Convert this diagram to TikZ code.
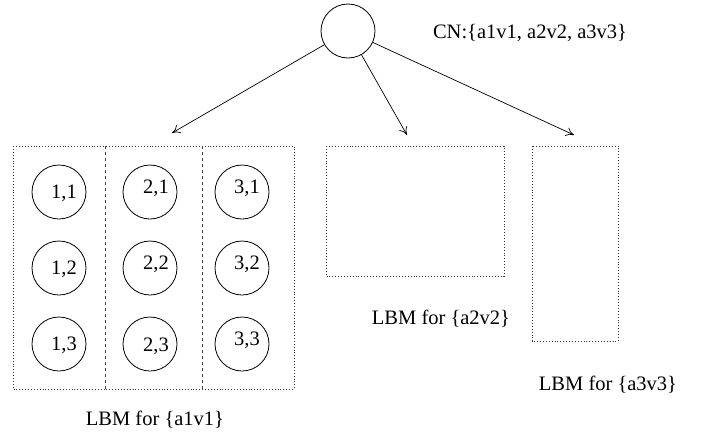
\documentclass[tikz,border=0pt]{standalone}
\usepackage{fontspec}
\setmainfont{Liberation Serif}
\usetikzlibrary{arrows.meta}
\begin{document}
\begin{tikzpicture}[x=1pt,y=-1pt,
  txt/.style={font=\fontsize{20.5}{24}\selectfont, inner sep=0pt},
  cell/.style={draw, circle, minimum size=54pt, inner sep=0pt, line width=0.8pt},
  celltxt/.style={txt},
  lbm/.style={draw, dotted, line width=0.9pt, black!80},
  divider/.style={draw, dash pattern=on 3pt off 3pt, line width=0.8pt, black!75},
  arr/.style={-{To[length=8pt,width=9pt]}, line width=0.7pt}
]
\useasboundingbox (0,0) rectangle (703,439);
% root
\node[cell] (root) at (348,31) {};
\node[txt, anchor=center] (cn) at (530,33) {CN:\{a1v1, a2v2, a3v3\}};
% boxes
\draw[lbm] (13,146) rectangle (294,389);
\coordinate (d1t) at (105,146); \coordinate (d1b) at (105,389);
\coordinate (d2t) at (202,146); \coordinate (d2b) at (202,389);
\draw[divider] (d1t) -- (d1b);
\draw[divider] (d2t) -- (d2b);
\draw[lbm] (326,146) rectangle (504,276);
\draw[lbm] (532,146) rectangle (618,341);
% cells
\node[cell] (c11) at (59,192) {}; \node[celltxt] at (64,193) {1,1};
\node[cell] (c12) at (59,268) {}; \node[celltxt] at (64,269) {1,2};
\node[cell] (c13) at (59,344) {}; \node[celltxt] at (64,345) {1,3};
\node[cell] (c21) at (150,192) {}; \node[celltxt] at (156,188) {2,1};
\node[cell] (c22) at (150,268) {}; \node[celltxt] at (156,264) {2,2};
\node[cell] (c23) at (150,344) {}; \node[celltxt] at (156,346) {2,3};
\node[cell] (c31) at (242,192) {}; \node[celltxt] at (247,188) {3,1};
\node[cell] (c32) at (242,268) {}; \node[celltxt] at (247,264) {3,2};
\node[cell] (c33) at (242,344) {}; \node[celltxt] at (247,340) {3,3};
% labels
\node[txt] (l1) at (155,420) {LBM for \{a1v1\}};
\node[txt] (l2) at (441,319) {LBM for \{a2v2\}};
\node[txt] (l3) at (608,385) {LBM for \{a3v3\}};
% arrows
\coordinate (t1) at (172,133);
\coordinate (t2) at (407,135);
\coordinate (t3) at (574,135);
\draw[arr] (root) -- (t1);
\draw[arr] (root) -- (t2);
\draw[arr] (root) -- (t3);
\end{tikzpicture}
\end{document}
